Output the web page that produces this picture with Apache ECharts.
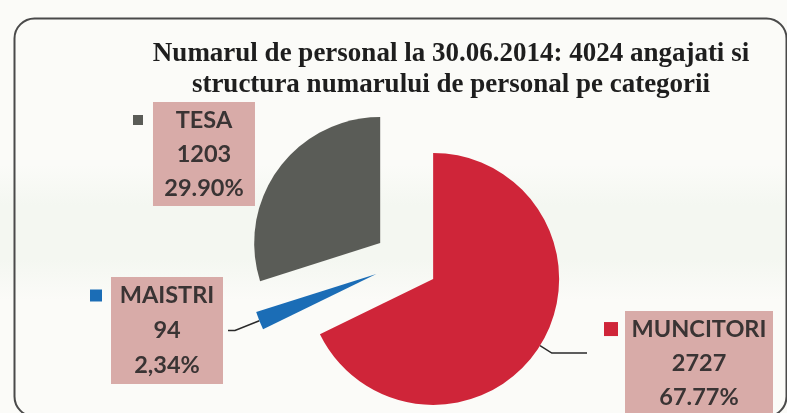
<!DOCTYPE html>
<html>
<head>
<meta charset="utf-8">
<script src="https://cdn.jsdelivr.net/npm/echarts@6/dist/echarts.min.js"></script>
<style>
html,body{margin:0;padding:0;background:#fbfbf8;}
#c{width:787px;height:413px;}
</style>
</head>
<body>
<div id="c"></div>
<script>
// ---- data ----
const categories = ['MUNCITORI', 'MAISTRI', 'TESA'];
const values = [2727, 94, 1203];
const percentLabels = ['67.77%', '2,34%', '29.90%'];
const colors = ['#cf2539', '#1b6db6', '#5a5c57'];
const titleLines = ['Numarul de personal la 30.06.2014: 4024 angajati si', 'structura numarului de personal pe categorii'];

// label styling / placement (sizes and leader-line geometry only)
const labelStyle = {
  MUNCITORI: { w: 148, lh: 34, mw: 14, gap: 7, len: 13.9, len2: 35.2, dist: 17, pad: [20, 0, 0, 0], line: true },
  MAISTRI:   { w: 112, lh: 35, mw: 12, gap: 9, len: 26.2, len2: 7,    dist: 5,  pad: 0, line: true },
  TESA:      { w: 102, lh: 34, mw: 10, gap: 10, len: 24.9, len2: 0,   dist: 3.4, pad: 0, line: false }
};

const chart = echarts.init(document.getElementById('c'), null, { renderer: 'canvas' });

const data = categories.map((name, i) => {
  const p = labelStyle[name];
  return {
    name: name,
    value: values[i],
    selected: true,
    itemStyle: { color: colors[i] },
    labelLine: { show: p.line, length: p.len, length2: p.len2 },
    label: {
      distanceToLabelLine: p.dist,
      padding: p.pad,
      formatter: '{m|}{g|}{t|' + name + '}\n{s|}{t|' + values[i] + '}\n{s|}{t|' + percentLabels[i] + '}',
      rich: {
        m: { width: p.mw, height: p.mw, backgroundColor: colors[i] },
        g: { width: p.gap },
        s: { width: p.mw + p.gap },
        t: {
          width: p.w, height: p.lh + 2, lineHeight: p.lh, align: 'center',
          backgroundColor: '#d8aba8',
          fontFamily: 'Lato', fontWeight: 'bold', fontSize: 23.5, color: '#3a3434'
        }
      }
    }
  };
});

chart.setOption({
  animation: false,
  backgroundColor: '#fbfbf8',
  title: {
    text: titleLines.join('\n'),
    left: 446, top: 34, textAlign: 'center',
    textStyle: { fontFamily: 'Liberation Serif', fontWeight: 'bold', fontSize: 27, lineHeight: 31, color: '#1e1e1e' }
  },
  graphic: [{
    type: 'rect', left: 0, top: 165, silent: true, z: -2,
    shape: { width: 787, height: 135 },
    style: {
      fill: new echarts.graphic.LinearGradient(0, 0, 0, 1, [
        { offset: 0, color: '#fbfbf8' },
        { offset: 0.3, color: '#f4f7f1' },
        { offset: 0.7, color: '#f4f7f1' },
        { offset: 1, color: '#fbfbf8' }
      ])
    }
  }, {
    type: 'rect', left: 12, top: 16, silent: true, z: -1,
    shape: { width: 772, height: 398, r: 20 },
    style: { fill: 'none', stroke: '#4a4a4a', lineWidth: 2 }
  }],
  series: [{
    type: 'pie',
    center: [406, 262],
    radius: 126,
    startAngle: 90,
    clockwise: true,
    selectedMode: 'multiple',
    selectedOffset: 32,
    avoidLabelOverlap: false,
    emphasis: { disabled: true },
    label: { show: true, position: 'outside', overflow: 'none', alignTo: 'none' },
    labelLine: { show: true, lineStyle: { color: '#2a2a2a', width: 1.5 } },
    data: data
  }]
});
</script>
</body>
</html>
